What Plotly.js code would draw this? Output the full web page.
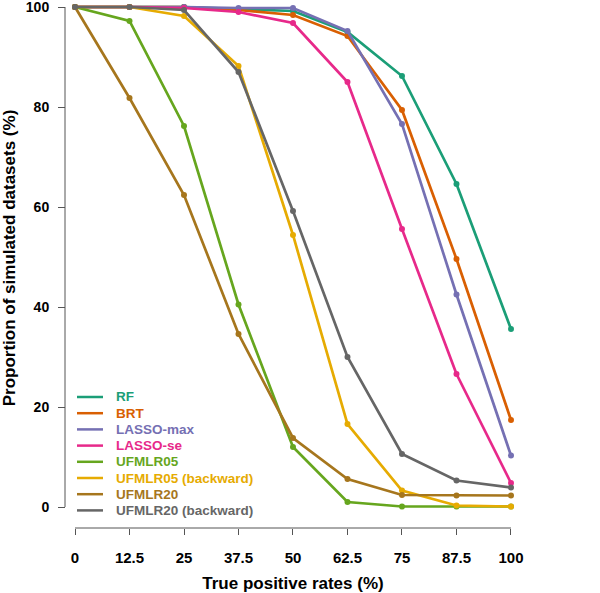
<!DOCTYPE html>
<html>
<head>
<meta charset="utf-8">
<script src="https://cdn.plot.ly/plotly-3.0.1.min.js"></script>
<style>html,body{margin:0;padding:0;background:#fff;}</style>
</head>
<body>
<div id="chart" style="width:600px;height:593px;"></div>
<script>
const tpr = [0, 12.5, 25, 37.5, 50, 62.5, 75, 87.5, 100];
const tickLabels = ["0", "12.5", "25", "37.5", "50", "62.5", "75", "87.5", "100"];
const seriesNames = ["RF", "BRT", "LASSO-max", "LASSO-se", "UFMLR05", "UFMLR05 (backward)", "UFMLR20", "UFMLR20 (backward)"];
const seriesColors = ["#1b9e77", "#d95f02", "#7570b3", "#e7298a", "#66a61e", "#e6ab02", "#a6761d", "#666666"];
const rf       = [100, 100, 100, 99.6, 99.2, 95.0, 86.2, 64.6, 35.6];
const brt      = [100, 100, 100, 99.4, 98.4, 94.2, 79.4, 49.6, 17.4];
const lassoMax = [100, 100, 100, 99.8, 99.8, 95.2, 76.6, 42.5, 10.3];
const lassoSe  = [100, 100, 99.8, 99.0, 96.8, 85.0, 55.6, 26.6, 4.8];
const ufmlr05  = [100, 97.2, 76.2, 40.5, 12.0, 1.0, 0.1, 0.1, 0.1];
const ufmlr05b = [100, 100, 98.2, 88.2, 54.4, 16.6, 3.3, 0.3, 0.1];
const ufmlr20  = [100, 81.8, 62.4, 34.6, 13.8, 5.6, 2.4, 2.3, 2.3];
const ufmlr20b = [100, 100, 99.4, 87.0, 59.2, 30.0, 10.6, 5.3, 3.9];
const allSeries = [rf, brt, lassoMax, lassoSe, ufmlr05, ufmlr05b, ufmlr20, ufmlr20b];

const traces = allSeries.map((ys, i) => ({
  x: tpr, y: ys, type: 'scatter', mode: 'lines+markers', name: seriesNames[i],
  line: {color: seriesColors[i], width: 2.7},
  marker: {color: seriesColors[i], size: 6},
  showlegend: false, hoverinfo: 'skip'
}));

const fontFam = '"Liberation Sans", Arial, sans-serif';
const W = 600, H = 593, M = {l: 65, r: 70, t: 3, b: 63};
const pw = W - M.l - M.r, ph = H - M.t - M.b;
const px2x = p => (p - M.l) / pw;
const px2y = p => (H - M.b - p) / ph;

// legend drawn as annotations + short line samples (layout only)
const legTop = 397, legStep = 16.2;
const shapes = [
  {type: 'line', xref: 'paper', yref: 'y', x0: 0, x1: 0, y0: 0, y1: 100, line: {color: '#555', width: 1}},
  {type: 'line', xref: 'x', yref: 'paper', x0: 0, x1: 100, y0: px2y(528), y1: px2y(528), line: {color: '#555', width: 1}}
];
const annotations = [];
seriesNames.forEach((nm, i) => {
  const yy = px2y(legTop + i * legStep);
  shapes.push({type: 'line', xref: 'paper', yref: 'paper', x0: px2x(77), x1: px2x(103), y0: yy, y1: yy,
    line: {color: seriesColors[i], width: 2.5}});
  annotations.push({xref: 'paper', yref: 'paper', x: px2x(114), y: yy, xanchor: 'left', yanchor: 'middle',
    text: '<b>' + nm + '</b>', showarrow: false,
    font: {family: fontFam, size: 13.5, color: seriesColors[i]}});
});

const layout = {
  width: W, height: H,
  margin: M,
  paper_bgcolor: '#fff', plot_bgcolor: '#fff',
  showlegend: false,
  xaxis: {
    domain: [px2x(70), px2x(516)],
    range: [-1.147, 101.15],
    anchor: 'free', position: px2y(528),
    tickmode: 'array', tickvals: tpr, ticktext: tickLabels,
    ticks: 'outside', ticklen: 6, tickwidth: 1, tickcolor: '#555',
    showline: false, showgrid: false, zeroline: false,
    tickfont: {family: fontFam, size: 15, color: '#000', weight: 'bold'},
    ticklabelstandoff: 10, ticklabeloverflow: 'allow',
    title: {text: '<b>True positive rates (%)</b>', font: {family: fontFam, size: 17, color: '#000'}, standoff: 12}
  },
  yaxis: {
    domain: [px2y(513), px2y(3)],
    range: [-1.2, 100.8],
    anchor: 'free', position: 0,
    tickmode: 'array', tickvals: [0, 20, 40, 60, 80, 100],
    ticks: 'outside', ticklen: 7, tickwidth: 1, tickcolor: '#555',
    showline: false, showgrid: false, zeroline: false,
    tickfont: {family: fontFam, size: 14, color: '#000', weight: 'bold'},
    ticklabelstandoff: 6, ticklabeloverflow: 'allow',
    title: {text: '<b>Proportion of simulated datasets (%)</b>', font: {family: fontFam, size: 17, color: '#000'}, standoff: 10}
  },
  shapes: shapes,
  annotations: annotations
};
Plotly.newPlot('chart', traces, layout, {displayModeBar: false, staticPlot: true});
</script>
</body>
</html>
